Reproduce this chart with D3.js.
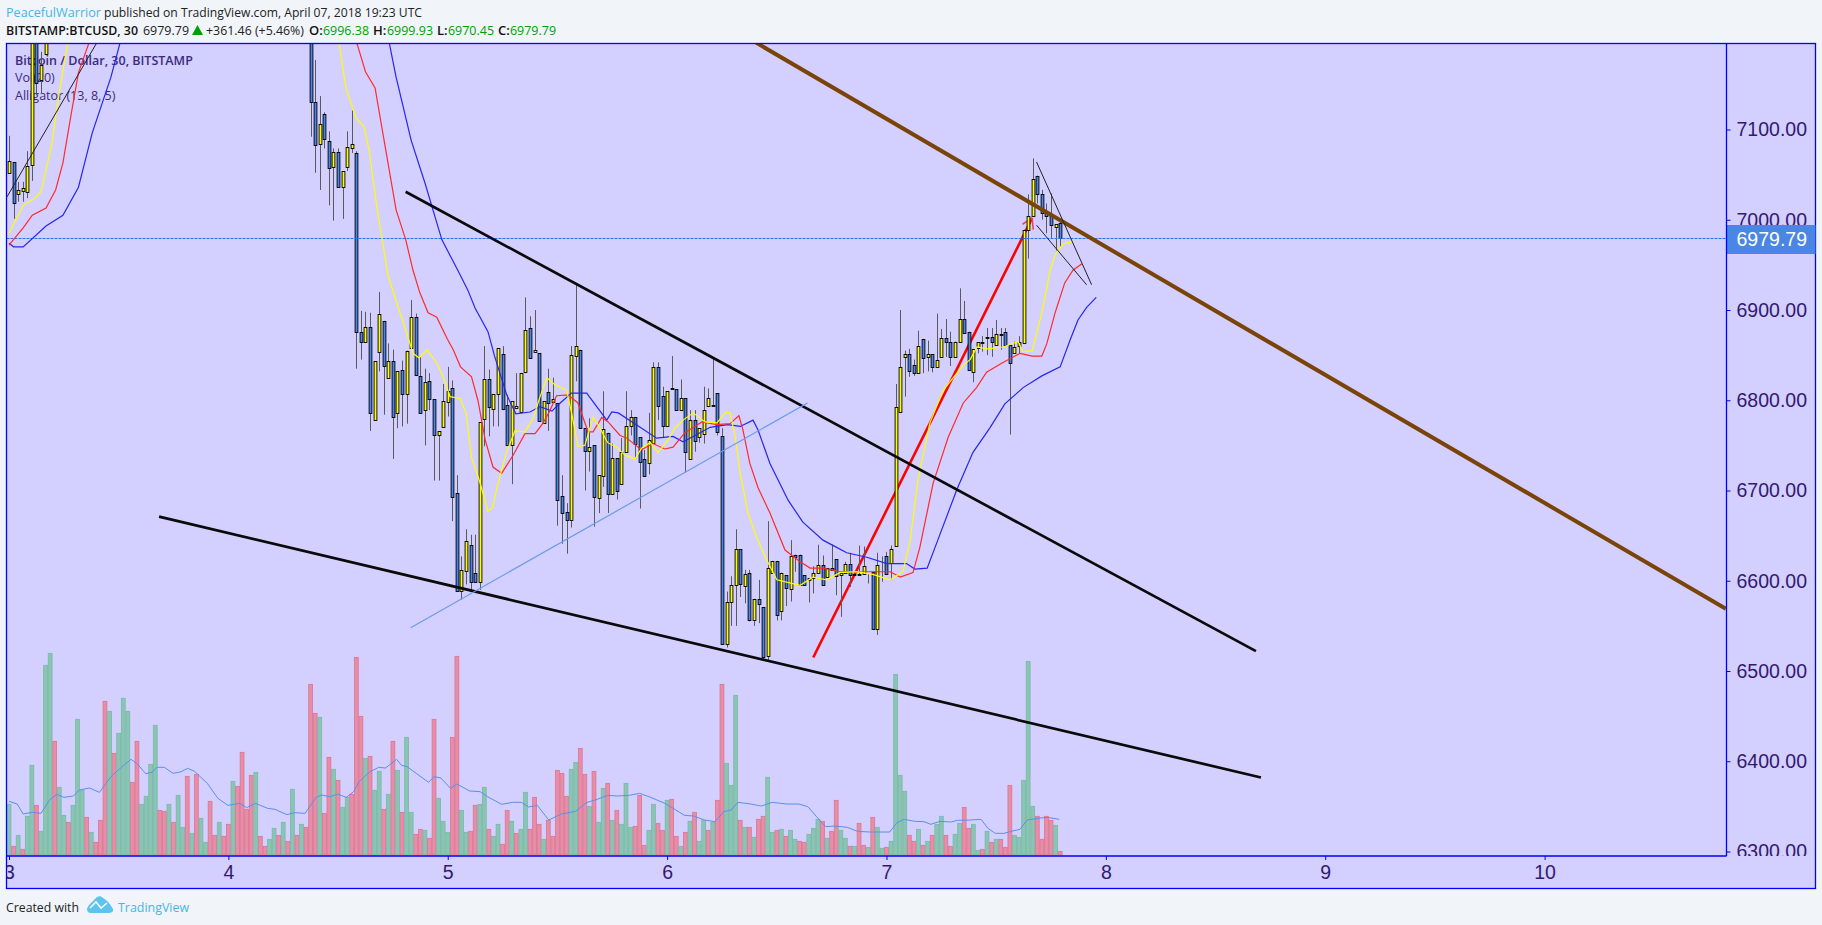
<!DOCTYPE html>
<html><head><meta charset="utf-8"><title>BTCUSD</title>
<script src="https://cdn.jsdelivr.net/npm/d3@7/dist/d3.min.js"></script>
<style>html,body{margin:0;padding:0;background:#f1f5f9;overflow:hidden}svg{display:block}</style>
</head><body><svg id="c" width="1822" height="925"></svg>
<script>
const dayTicks=[3,4,5,6,7,8,9,10];
const priceTicks=[6300,6400,6500,6600,6700,6800,6900,7000,7100];
const lastPrice=6979.79;
const barsPerDay=48;
const candleBars=d3.range(0,9).concat(d3.range(66,231));
const opens=[7051.5,7063.7,7029,7032.3,7031.2,7060.3,7235,7154.9,7183.3,
7240,7130,7084,7117,7087,7059,7075,7036,7058,7079,
7074,6876,6865,6881,6778,6854,6888,6825,6844,6786,
6833,6807,6858,6892,6827,6789,6821,6801,6761,6770,
6798,6814,6697,6589,6611,6640,6609,6599,6779,6823,
6790,6807,6851,6795,6750,6791,6787,6831,6880,6854,
6852,6775,6809,6798,6797,6694,6676,6667,6849,6856,
6769,6744,6750,6692,6716,6764,6696,6736,6707,6743,
6771,6781,6759,6735,6730,6753,6837,6805,6771,6812,
6812,6789,6802,6735,6778,6759,6763,6794,6794,6808,
6760,6530,6577,6595,6635,6594,6609,6557,6580,6571,
6517,6609,6622,6567,6606,6591,6629,6629,6606,6601,
6603,6609,6618,6604,6614,6624,6606,6609,6619,6606,
6606,6607,6607,6610,6546,6617,6627,6620,6639,6787,
6848,6851,6839,6830,6868,6848,6851,6837,6848,6869,
6864,6848,6865,6890,6876,6831,6858,6863,6869,6870,
6861,6872,6876,6861,6852,6860,6863,6989,7004,7049,
7029,7009,7004,6992,6996.38];
const closes=[7065,7019,7033,7035,7060,7230,7151,7172,7215,
7131,7083,7106,7090,7057,7075,7036,7054,7081,7084,
6876,6865,6881,6786,6843,6896,6838,6844,6781,6832,
6807,6855,6892,6828,6786,6820,6801,6761,6766,6799,
6810,6693,6589,6612,6644,6599,6599,6776,6823,6792,
6807,6858,6790,6750,6799,6794,6830,6878,6847,6856,
6777,6799,6797,6801,6690,6675,6667,6850,6860,6769,
6744,6748,6693,6717,6768,6696,6736,6700,6743,6771,
6781,6752,6732,6716,6756,6837,6794,6771,6810,6814,
6789,6802,6743,6778,6755,6769,6789,6803,6795,6765,
6530,6577,6595,6635,6596,6608,6556,6580,6574,6516,
6614,6622,6562,6609,6592,6627,6626,6595,6595,6603,
6609,6618,6595,6614,6612,6605,6609,6619,6606,6608,
6608,6616,6608,6546,6617,6618,6608,6635,6792,6837,
6851,6832,6830,6860,6847,6851,6837,6845,6869,6864,
6848,6865,6890,6874,6834,6857,6864,6864,6870,6865,
6873,6873,6861,6841,6859,6864,6989,7004,7045,7029,
7008,7004,6994,6995,6979.79];
const highs=[7093,7064,7042,7042,7076,7240,7240,7186,7225,
7250,7177,7137,7119,7098,7079,7079,7054,7098,7121,
7076,6899,6898,6897,6843,6920,6888,6863,6856,6832,
6844,6855,6911,6896,6848,6835,6830,6801,6766,6818,
6837,6822,6717,6627,6657,6651,6651,6776,6860,6834,
6807,6858,6860,6806,6799,6830,6830,6914,6893,6900,
6852,6799,6835,6825,6797,6717,6686,6860,6930,6856,
6769,6780,6750,6717,6810,6764,6752,6736,6758,6810,
6789,6781,6759,6745,6786,6842,6842,6815,6810,6849,
6812,6823,6802,6789,6789,6769,6815,6813,6846,6808,
6769,6588,6605,6657,6635,6612,6612,6580,6601,6571,
6666,6622,6622,6609,6606,6645,6629,6629,6606,6603,
6616,6640,6628,6614,6640,6624,6609,6621,6631,6608,
6639,6638,6608,6610,6631,6627,6632,6639,6818,6900,
6855,6857,6845,6877,6868,6866,6851,6896,6879,6890,
6876,6865,6924,6910,6876,6857,6864,6871,6880,6880,
6889,6880,6880,6861,6865,6871,6989,7028,7068,7049,
7033,7018,7029,6995,6999.93];
const lows=[7052,7001,7020,7020,7024,7043,7138,7140,7183,
7092,7052,7033,7079,7016,6999,7036,7001,7054,7074,
6835,6845,6864,6766,6777,6832,6784,6825,6735,6769,
6771,6774,6858,6828,6786,6750,6789,6711,6711,6770,
6782,6666,6589,6579,6596,6588,6599,6590,6749,6760,
6771,6771,6789,6750,6707,6791,6787,6830,6847,6854,
6777,6775,6766,6798,6661,6641,6630,6659,6821,6769,
6700,6721,6660,6675,6704,6675,6696,6690,6707,6743,
6761,6736,6680,6716,6718,6753,6778,6758,6771,6812,
6788,6788,6720,6735,6743,6753,6752,6794,6794,6761,
6530,6526,6550,6550,6582,6575,6555,6550,6553,6512,
6510,6609,6556,6556,6572,6577,6610,6595,6595,6576,
6586,6609,6595,6604,6612,6584,6560,6609,6593,6606,
6606,6607,6597,6546,6540,6599,6608,6601,6639,6787,
6804,6826,6827,6830,6830,6832,6831,6837,6848,6848,
6838,6848,6865,6874,6834,6820,6852,6854,6850,6848,
6861,6856,6861,6762,6852,6852,6863,6957,7004,7018,
7000,6985,6980,6966,6970.45];
const volumes=[152,26,59,17,116,269,149,71,569,605,
341,203,119,98,149,407,194,113,68,38,
104,461,431,305,365,470,431,218,341,152,
176,272,389,134,131,152,98,179,83,236,
65,242,110,38,161,59,98,56,92,221,
206,308,137,239,248,56,26,47,80,59,
98,41,197,59,92,83,512,425,413,125,
293,257,224,143,173,182,593,416,290,296,
194,251,137,182,341,254,128,353,128,62,
77,74,50,407,170,101,68,353,596,134,
68,71,149,152,203,77,56,92,32,134,
101,65,77,188,77,173,92,47,104,56,
254,245,176,257,278,320,242,146,251,98,
200,215,104,134,92,215,83,86,179,29,
74,152,95,74,164,167,56,26,68,101,
128,41,104,74,98,164,512,275,209,479,
104,83,83,53,107,116,233,68,74,77,
56,74,47,41,38,62,80,107,101,50,
71,164,74,50,26,26,95,29,23,113,
83,20,23,41,542,239,191,59,41,77,
29,41,59,92,116,59,26,62,95,143,
80,92,14,17,71,38,47,47,23,209,
59,53,224,581,146,116,47,116,104,89,11];
const volumeSide=("GRGRGGRGGG"+"RGGRGGGRGR"+"RRGRGGGRRG"+"GGGRRGRGGR"+"GRGGRRGRRG"+"RRRRGRRGGR"+"GRGRGRRRGR"+"RGRGGRRRGR"+"GGRGRGRGGR"+"RGRRGGGRRG"+"GRRGGRGGRR"+"GRGGRRRGRR"+"RRRGGRRGRG"+"GRGRGGGRRR"+"GGRRGRRGRG"+"RGGRGRRGGG"+"RGRGRRGGRG"+"RGGRRGGGRG"+"RRGGRGRRGR"+"GGRGGGGRRG"+"RGRGGRRGGR"+"RGGRGRGRRR"+"GGGGGRRRRGR").split("");
const volMaBars=[0,1.8,3.1,5.1,7,9,10.5,12,14.1,15.4,17.6,19.8,22.3,24.6,26.7,28.1,29.9,31.3,32.4,34,35.9,37.5,39.1,40.6,43.4,45.7,47.9,50.5,52,53.9,56.6,58.2,60.8,62.5,64.8,67.2,68.4,70.3,71.9,73.8,75.4,76.6,78.9,80.9,82.4,84.8,85.9,87.1,89.1,91.8,93,94.5,96.6,98,100.8,103.1,104.7,107.8,110.2,112.1,113.7,115.6,118.1,120.9,124,126.3,128.7,131,133,135.7,138,140.4,143.5,145.9,147.8,149.8,152.1,154.5,156.4,158,159.5,162.3,164.6,167,170.1,172.8,174.8,176.7,178.7,180.6,183.4,185.7,188.4,192.7,194.3,195.9,198.2,200.2,201.7,203.7,206,207.6,210.3,212.7,214.2,215.8,217.7,219.3,221.2,222.8,225.1,227.1,229.8];
const volMaValues=[161,153,123,128,125,167,182,173,177,195,201,188,235,263,287,273,244,248,263,263,245,249,260,251,215,170,149,155,142,155,140,137,121,127,125,173,180,175,183,173,190,220,249,263,261,287,269,265,245,218,235,231,200,213,192,190,175,152,158,158,144,149,105,123,131,157,167,179,177,179,185,173,155,135,119,117,105,100,130,135,158,153,147,158,153,153,145,115,85,87,83,71,69,69,97,107,101,100,92,101,99,104,105,107,80,65,65,71,77,105,110,113,107];
const lipsBars=[0,3.1,5.9,7,8.1,9.4,10.5,12.3,12.9,null,72.2,73.7,75.9,77.7,78.8,80.5,81.8,82.9,84.5,87,88.4,89.7,91.5,93.6,95,96.5,98.7,100,101.2,103.1,104.8,105.8,107,108.9,110.7,112.9,114.7,116.2,117.7,119.5,122,123.1,124.5,126,127.8,128.9,131,133,134.8,137,138.4,140.3,142,144.2,145.7,147.5,149.7,152.3,154.9,156.7,157.8,158.9,160,161.7,163.6,165.8,168,173.1,175.9,178.9,181.8,185.5,189,192.8,195.6,197.2,198.9,201.5,204.4,208.8,210.3,211.8,214,217.5,220.8,221.8,223.9,226,227.8,228.9,230.6,232.8];
const lipsPrices=[6985,7016,7025,7031,7055,7085,7125,7180,7196,null,7196,7147,7113,7103,7077,7014,6974,6939,6913,6875,6852,6847,6856,6841,6826,6804,6802,6786,6737,6708,6677,6681,6708,6743,6766,6765,6780,6804,6825,6817,6811,6786,6749,6750,6781,6773,6753,6748,6739,6735,6747,6753,6742,6756,6769,6778,6786,6776,6775,6786,6786,6759,6719,6675,6648,6623,6601,6595,6604,6601,6609,6610,6607,6601,6610,6645,6712,6775,6811,6839,6845,6859,6857,6859,6865,6854,6855,6897,6944,6961,6973,6976];
const teethBars=[0,3.1,5.1,8.1,10.2,11.8,13.5,15.2,17.5,null,76.1,78,80.1,81.8,84.7,86.8,88.4,89.9,91.7,93.6,95.8,97.2,98.8,101.2,102.6,104.2,105.9,107.8,110.3,112.9,115.1,116.9,118.4,119.8,122.3,124.5,126.7,127.8,129.7,131.1,133.7,135.2,138.4,140.9,143.5,145.3,147.9,151.6,154.9,157.8,159.7,160.6,162.1,163.9,166.5,169.8,173.1,175.3,178.1,181.8,185.5,189.1,192.8,195,197.8,199.3,202.2,205.5,208.8,211.7,213.9,217.2,221.2,223.9,226,227.1,228.9,231,232.8,234.7];
const teethPrices=[6972,6991,7005,7013,7033,7063,7114,7163,7196,null,7196,7164,7146,7096,7011,6978,6944,6919,6897,6892,6869,6856,6837,6826,6800,6756,6726,6719,6739,6763,6763,6775,6789,6805,6806,6797,6765,6765,6781,6776,6761,6758,6745,6752,6746,6748,6764,6776,6773,6774,6783,6767,6730,6703,6675,6634,6621,6614,6614,6610,6610,6610,6610,6604,6609,6637,6708,6759,6797,6814,6831,6841,6852,6849,6849,6863,6897,6930,6944,6951];
const jawBars=[0,1,3.1,8.1,11.8,15.2,18.2,22.3,24.3,null,83.2,84.7,88,91,94.7,98.2,100.4,102,104.8,106.3,108.9,110.9,114,116.2,118.8,120.6,123.1,126.4,128.6,130.8,131.9,133.3,138.1,141.7,145.3,147.5,150.1,153.4,157.3,160,162.8,163.9,166.5,170.5,173.7,178.1,181.1,183.3,187.7,192.1,196.4,198.2,200.9,203,207.4,210.9,214.7,217.9,221.9,226,230,232.2,233.9,235.8,237.9];
const jawPrices=[6974,6970,6970,6993,7005,7036,7096,7158,7196,null,7196,7158,7088,7041,6978,6944,6922,6902,6876,6848,6806,6785,6787,6793,6788,6797,6808,6808,6793,6778,6787,6786,6770,6758,6760,6754,6761,6770,6773,6771,6778,6767,6730,6689,6665,6645,6637,6631,6626,6619,6619,6613,6614,6642,6701,6742,6770,6796,6814,6827,6837,6867,6889,6903,6914];
const redLines=[
 {d:[6.666,7.664],p:[6515,7002],c:"#ff0000",w:2.6},
 {d:[7.620,7.664],p:[6995,7002],c:"#f04060",w:1.6},
 {d:[7.664,7.669],p:[7002,6989],c:"#f04060",w:1.6}
];
const trendLines=[
 {d:[6.407,10.826],p:[7196,6569],c:"#7a4408",w:4},
 {d:[4.808,8.684],p:[7031,6522],c:"#0a0a0a",w:2.7},
 {d:[3.684,8.707],p:[6671,6382],c:"#0a0a0a",w:2.7},
 {d:[4.831,6.640],p:[6548,6797],c:"#6a9cec",w:1.2},
 {d:[2.99,3.40],p:[7025,7196],c:"#222222",w:1},
 {d:[7.684,7.935],p:[7064,6928],c:"#222222",w:1},
 {d:[7.684,7.912],p:[6994,6928],c:"#222222",w:1}
];

const svg=d3.select("#c");
const L=6.5,R=1726.5,T=43.5,B=856,OR=1815.5,OB=888.5;
const x=d3.scaleLinear().domain([3,10]).range([9,1544.6]);
const y=d3.scaleLinear().domain([7100,6300]).range([129.5,851.5]);
const v=d3.scaleLinear().domain([0,1000]).range([855,521.7]);
const barX=i=>x(3+i/barsPerDay);
const FILL="#d3cfff",BLUE="#0000ff",INK="#32196e";

const defs=svg.append("defs");
defs.append("clipPath").attr("id","plot").append("rect").attr("x",L).attr("y",T).attr("width",R-L).attr("height",B-T);
defs.append("clipPath").attr("id","xa").append("rect").attr("x",L).attr("y",B).attr("width",OR-L).attr("height",OB-B);
defs.append("clipPath").attr("id","ya").append("rect").attr("x",R).attr("y",T).attr("width",OR-R).attr("height",B-T);

svg.append("rect").attr("x",L).attr("y",T).attr("width",OR-L).attr("height",OB-T).attr("fill",FILL);

// legend under the marks
const legend=[["Bitcoin / Dollar, 30, BITSTAMP",60.5,600],["Vol(20)",77.5,400],["Alligator (13, 8, 5)",95,400]];
svg.append("g").selectAll("text").data(legend).join("text")
 .attr("x",15).attr("y",d=>d[1]+4.5).text(d=>d[0])
 .attr("font-family","'Open Sans',sans-serif").attr("font-size",12.5).attr("font-weight",d=>d[2]).attr("fill","#3c2a7c");

const plot=svg.append("g").attr("clip-path","url(#plot)");

// volume
const bw=(x(4)-x(3))/barsPerDay;
plot.append("g").selectAll("rect").data(volumes).join("rect")
 .attr("x",(d,i)=>barX(i)-bw*0.42).attr("width",bw*0.84)
 .attr("y",d=>v(d)).attr("height",d=>v(0)-v(d))
 .attr("fill",(d,i)=>volumeSide[i]=="G"?"#8cc4b4":"#e48fa8")
 .attr("stroke",(d,i)=>volumeSide[i]=="G"?"#74bba6":"#e5718f").attr("stroke-width",0.8);
const line=d3.line().defined(d=>d[1]!==null);
const path=(bars,vals,sc)=>line(bars.map((b,i)=>[b===null?0:barX(b),vals[i]===null?null:sc(vals[i])]));
plot.append("path").attr("d",path(volMaBars,volMaValues,v)).attr("fill","none").attr("stroke","#5b90ea").attr("stroke-width",1);

const drawTrend=(data)=>plot.append("g").selectAll("line").data(data).join("line")
 .attr("x1",d=>x(d.d[0])).attr("x2",d=>x(d.d[1])).attr("y1",d=>y(d.p[0])).attr("y2",d=>y(d.p[1]))
 .attr("stroke",d=>d.c).attr("stroke-width",d=>d.w);
drawTrend(redLines);

// candles
const rows=candleBars.map((b,i)=>({b,o:opens[i],h:highs[i],l:lows[i],c:closes[i]}));
const cx=d=>Math.round(barX(d.b));
plot.append("g").selectAll("line").data(rows).join("line")
 .attr("x1",d=>cx(d)+.5).attr("x2",d=>cx(d)+.5).attr("y1",d=>y(d.h)).attr("y2",d=>y(d.l))
 .attr("stroke","#5a5a5a").attr("stroke-width",1);
plot.append("g").selectAll("rect").data(rows).join("rect")
 .attr("x",d=>cx(d)-.9).attr("width",2.8)
 .attr("y",d=>Math.round(y(Math.max(d.o,d.c)))+.5)
 .attr("height",d=>Math.max(0,Math.round(y(Math.min(d.o,d.c)))-Math.round(y(Math.max(d.o,d.c)))))
 .attr("fill",d=>d.c>=d.o?"#ffff00":"#4a86e8").attr("stroke","#000").attr("stroke-width",.9);

// price line
const py=Math.ceil(y(lastPrice))+.5;
plot.append("line").attr("x1",L).attr("x2",R).attr("y1",py).attr("y2",py)
 .attr("stroke","#2f6fe8").attr("stroke-width",1).attr("stroke-dasharray","3 1");

// alligator
[[jawBars,jawPrices,"#2626f0"],[teethBars,teethPrices,"#ff2a2a"],[lipsBars,lipsPrices,"#ffff00"]].forEach(s=>{
 plot.append("path").attr("d",path(s[0],s[1],y)).attr("fill","none").attr("stroke",s[2]).attr("stroke-width",1.2);
});

// trend lines
drawTrend(trendLines);

// frames
svg.append("rect").attr("x",L).attr("y",T).attr("width",OR-L).attr("height",OB-T).attr("fill","none").attr("stroke",BLUE).attr("stroke-width",1.3);
svg.append("line").attr("x1",L).attr("x2",R).attr("y1",B).attr("y2",B).attr("stroke",BLUE).attr("stroke-width",1.3);

// axes
const styleAxis=g=>{g.select(".domain").remove();g.selectAll("line").attr("stroke",BLUE);
 g.selectAll("text").attr("fill",INK).attr("font-family","'Liberation Sans',Arial,sans-serif").attr("font-size",19.5);};
svg.append("g").attr("clip-path","url(#xa)").append("g").attr("transform",`translate(0,${B})`)
 .call(d3.axisBottom(x).tickValues(dayTicks).tickSize(4).tickPadding(5).tickFormat(d3.format("d"))).call(styleAxis);
svg.append("g").attr("clip-path","url(#ya)").append("g").attr("transform",`translate(${R},0)`)
 .call(d3.axisRight(y).tickValues(priceTicks).tickSize(4).tickPadding(6).tickFormat(d3.format(".2f"))).call(styleAxis);

// last price tag
svg.append("rect").attr("x",R).attr("y",225).attr("width",OR-R).attr("height",29).attr("fill","#4a86e4");
svg.append("text").attr("x",R+10).attr("y",py).attr("dy",".36em").text(lastPrice.toFixed(2))
 .attr("fill","#fff").attr("font-family","'Liberation Sans',Arial,sans-serif").attr("font-size",19.5);
svg.append("line").attr("x1",R).attr("x2",R).attr("y1",T).attr("y2",B).attr("stroke",BLUE).attr("stroke-width",1.3);

// header
const HF="'Open Sans',sans-serif",GREEN="#00a000",TXT="#222";
const head=(t,xp,yp,c,w,len)=>{const n=svg.append("text").attr("x",xp).attr("y",yp).text(t).attr("fill",c)
 .attr("font-family",HF).attr("font-size",13).attr("font-weight",w);
 if(len)n.attr("textLength",len).attr("lengthAdjust","spacingAndGlyphs");return n;};
head("PeacefulWarrior",6,16.5,"#46b6e8",400,95);
head("published on TradingView.com, April 07, 2018 19:23 UTC",104,16.5,TXT,400,318);
head("BITSTAMP:BTCUSD, 30",6,34.5,"#111",600,132);
head("6979.79",143,34.5,TXT,400,46);
svg.append("path").attr("d","M192,35L203,35L197.5,25Z").attr("fill",GREEN);
head("+361.46 (+5.46%)",206,34.5,TXT,400,98);
const ohlcLabel=["O:","H:","L:","C:"],ohlcVal=["6996.38","6999.93","6970.45","6979.79"];
[309,373,437,498].forEach((xp,i)=>head(ohlcLabel[i],xp,34.5,"#111",600,null));
[323,387,448,510].forEach((xp,i)=>head(ohlcVal[i],xp,34.5,GREEN,400,46));

// footer
head("Created with",6,911.5,TXT,400,73);
head("TradingView",118,911.5,"#46b6e8",400,71);
svg.append("path").attr("d","M88,912C85,908 90,904 94,900C97,896 100,895 103,898C107,900 111,905 113,909C114,912 111,913 108,913L92,913C90,913 89,913 88,912Z").attr("fill","#5ec4ee");
svg.append("path").attr("d","M90,908L96,902L101,908L107,903").attr("fill","none").attr("stroke","#f1f5f9").attr("stroke-width",1.6);
</script></body></html>
